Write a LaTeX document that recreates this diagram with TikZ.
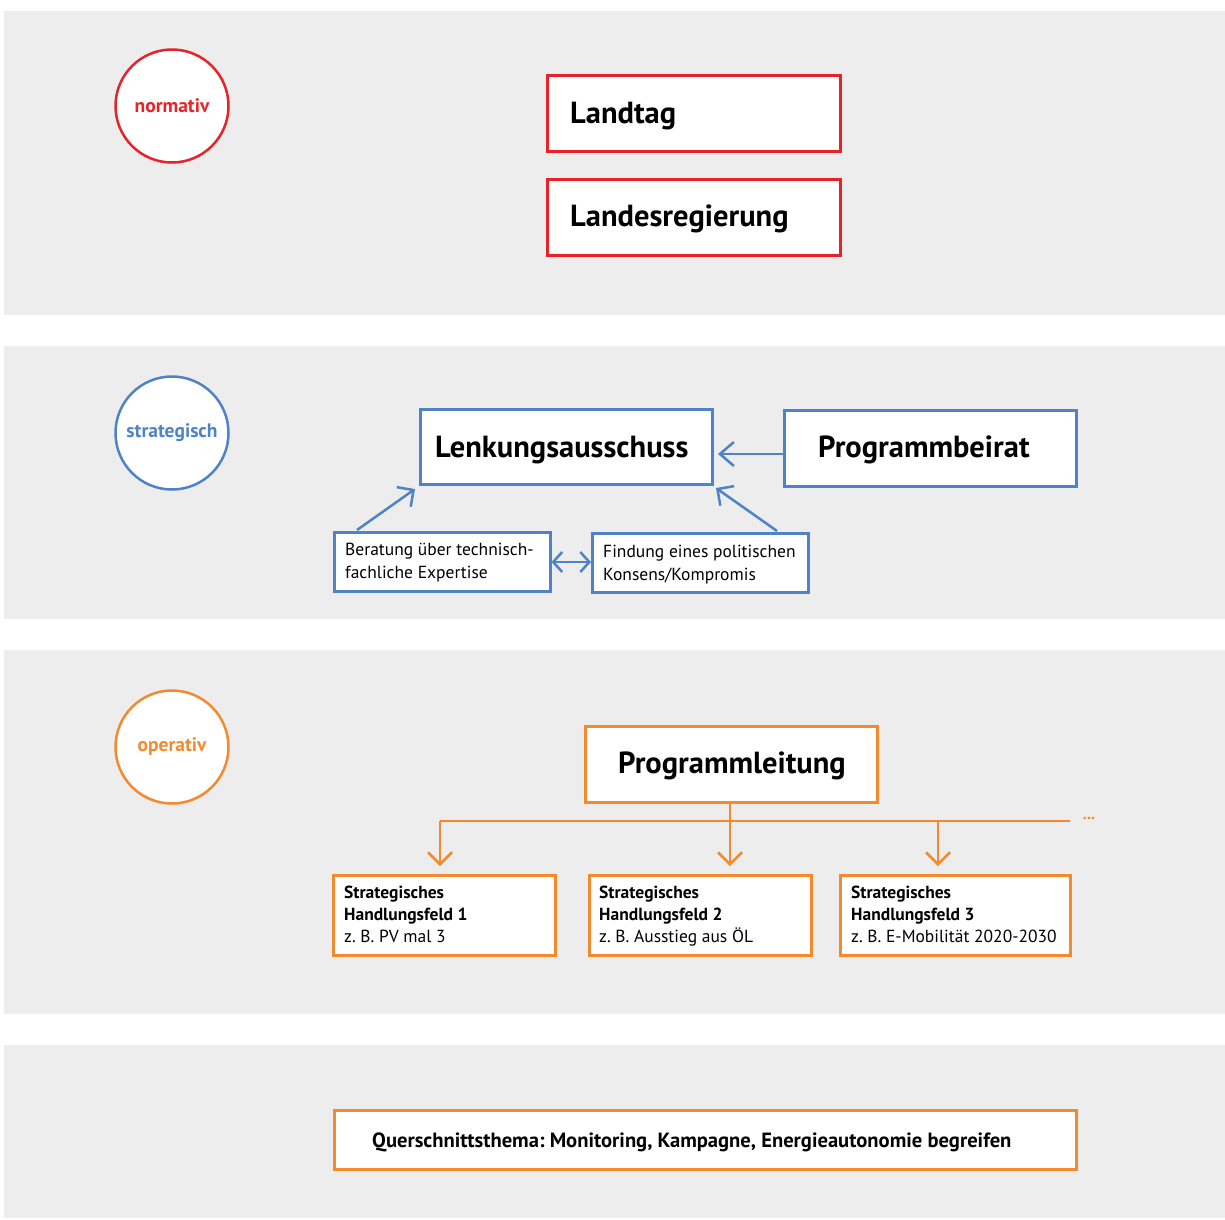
\documentclass[tikz,border=0pt]{standalone}
\usepackage{fontspec}
\setmainfont{PT Sans}
\usetikzlibrary{arrows.meta}
\frenchspacing
\definecolor{bg}{HTML}{EDEDED}
\definecolor{cred}{HTML}{E52329}
\definecolor{cblue}{HTML}{4F83C7}
\definecolor{corange}{HTML}{F48A2E}
\tikzset{
  band/.style={fill=bg,draw=none},
  level/.style={circle,draw=#1,fill=white,line width=2.5pt,minimum size=113pt,inner sep=0pt,text=#1,font=\fontsize{19.5}{22}\selectfont\bfseries},
  bigbox/.style={draw=#1,fill=white,line width=2.5pt,minimum width=293pt,minimum height=76pt,inner sep=0pt},
  bigtext/.style={anchor=west,inner sep=0pt,font=\fontsize{30.5}{36}\selectfont\bfseries},
  smallbox/.style={draw=cblue,fill=white,line width=2.5pt,minimum width=216pt,minimum height=59pt,inner sep=0pt},
  smalltext/.style={anchor=west,inner sep=0pt,align=left,font=\fontsize{17.5}{23}\selectfont},
  hfbox/.style={draw=corange,fill=white,line width=2.5pt,minimum height=80pt,inner sep=0pt},
  hftext/.style={anchor=north west,inner sep=0pt,align=left,font=\fontsize{17.5}{22}\selectfont},
  barb/.style={-{Straight Barb[length=12pt,width=24pt]},line width=2.5pt},
  dbarb/.style={{Straight Barb[length=9pt,width=20pt]}-{Straight Barb[length=9pt,width=20pt]},line width=2.5pt}
}
\begin{document}
\begin{tikzpicture}[x=1pt,y=-1pt]
\useasboundingbox (0,0) rectangle (1225,1219);
\fill[white] (0,0) rectangle (1225,1219);
% bands
\fill[band] (4,11) rectangle (1225,315);
\fill[band] (4,346) rectangle (1225,619);
\fill[band] (4,650) rectangle (1225,1014);
\fill[band] (4,1045) rectangle (1225,1218);
% normativ
\node[level=cred] (nor) at (172,106) {normativ};
\node[bigbox=cred,anchor=north west] (lt) at (546,74) {};
\node[bigtext] (ltt) at (570,116) {Landtag};
\node[bigbox=cred,anchor=north west] (lr) at (546,178) {};
\node[bigtext] (lrt) at (570,219) {Landesregierung};
% strategisch
\node[level=cblue] (str) at (172,433) {strategisch};
\node[bigbox=cblue,anchor=north west,minimum width=292pt,minimum height=75pt] (lk) at (419,408) {};
\node[bigtext] (lkt) at (435,450) {Lenkungsausschuss};
\node[bigbox=cblue,anchor=north west,minimum width=292pt] (pb) at (783,409) {};
\node[bigtext] (pbt) at (818,450) {Programmbeirat};
\node[smallbox,anchor=north west] (ber) at (333,531) {};
\node[smalltext] (bert) at (345,563) {Beratung über technisch-\\fachliche Expertise};
\node[smallbox,anchor=north west] (fin) at (591,532) {};
\node[smalltext] (fint) at (603,565) {Findung eines politischen\\Konsens/Kompromis};
\coordinate (lkbl) at (415,489);
\coordinate (lkbr) at (716,488);
\coordinate (lkr) at (718,454);
\draw[barb,draw=cblue,-{Straight Barb[length=14pt,width=24pt]}] (pb.west |- lkr) -- (lkr);
\draw[barb,draw=cblue] (357,530) -- (lkbl);
\draw[barb,draw=cblue] (777,531) -- (lkbr);
\draw[dbarb,draw=cblue] (ber.east |- 0,562) -- (fin.west |- 0,562);
% operativ
\node[level=corange] (op) at (172,747) {operativ};
\node[bigbox=corange,anchor=north west,minimum width=292pt,minimum height=76pt] (pl) at (584,725) {};
\node[bigtext] (plt) at (618,766) {Programmleitung};
\node[hfbox,anchor=north west,minimum width=222pt] (h1) at (332,874) {};
\node[hftext] (h1t) at (344,886) {\bfseries Strategisches\\\bfseries Handlungsfeld 1\\z. B. PV mal 3};
\node[hfbox,anchor=north west,minimum width=222pt] (h2) at (588,874) {};
\node[hftext] (h2t) at (599,886) {\bfseries Strategisches\\\bfseries Handlungsfeld 2\\z. B. Ausstieg aus ÖL};
\node[hfbox,anchor=north west,minimum width=230pt] (h3) at (839,874) {};
\node[hftext] (h3t) at (851,886) {\bfseries Strategisches\\\bfseries Handlungsfeld 3\\z. B. E-Mobilität 2020-2030};
\coordinate (bl) at (440,821);
\coordinate (br) at (1070,821);
\node[text=corange,inner sep=0pt,font=\fontsize{16}{18}\selectfont\bfseries] (dots) at (1089,818) {...};
\draw[corange,line width=2.5pt] (bl) -- (br);
\draw[barb,draw=corange] (bl) -- (440,866);
\draw[barb,draw=corange] (pl.south -| 730,0) -- (730,866);
\draw[barb,draw=corange] (938,821) -- (938,866);
% querschnitt
\node[draw=corange,fill=white,line width=2.5pt,anchor=north west,minimum width=742pt,minimum height=59pt,inner sep=0pt] (qs) at (333,1109) {};
\node[anchor=west,inner sep=0pt,font=\fontsize{20.6}{24}\selectfont\bfseries] (qst) at (372,1142) {Querschnittsthema: Monitoring, Kampagne, Energieautonomie begreifen};
\end{tikzpicture}
\end{document}
